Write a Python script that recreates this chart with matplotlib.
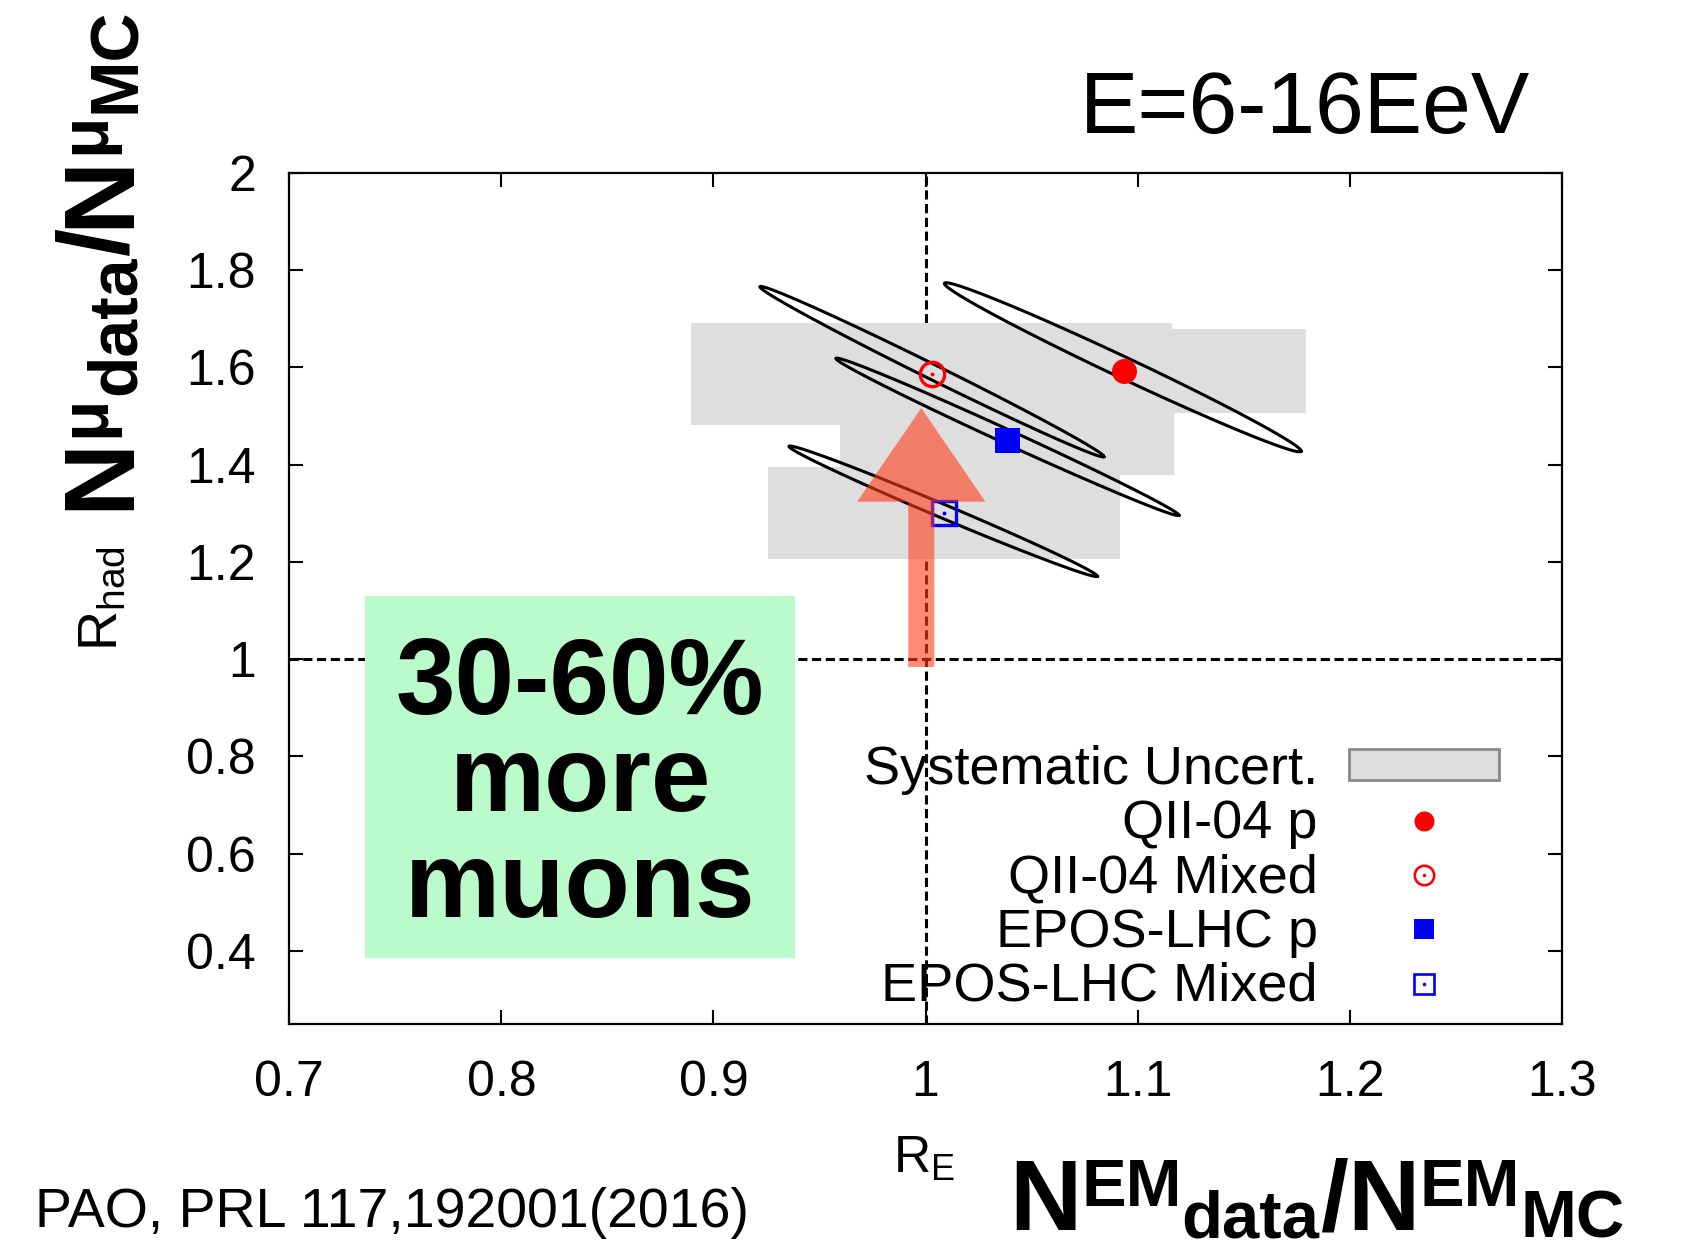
import numpy as np
import matplotlib
matplotlib.use('Agg')
import matplotlib.pyplot as plt
from matplotlib.patches import Rectangle, Patch, FancyArrow
from matplotlib.lines import Line2D
from matplotlib.transforms import IdentityTransform
from matplotlib import font_manager as fm

names = {f.name for f in fm.fontManager.ttflist}
SANS = 'Liberation Sans' if 'Liberation Sans' in names else 'DejaVu Sans'

plt.rcParams['font.family'] = [SANS, 'DejaVu Sans']
plt.rcParams['mathtext.fontset'] = 'custom'
plt.rcParams['mathtext.rm'] = SANS
plt.rcParams['mathtext.bf'] = SANS + ':bold'
plt.rcParams['mathtext.it'] = SANS + ':italic'

# ---------------- data ----------------
models = ['QII-04 p', 'QII-04 Mixed', 'EPOS-LHC p', 'EPOS-LHC Mixed']
r_e = [1.0935, 1.003, 1.0384, 1.0086]
r_had = [1.593, 1.586, 1.4506, 1.300]
sys_e = [0.086, 0.1134, 0.0788, 0.083]
sys_had = [0.0863, 0.1052, 0.072, 0.0945]
# statistical contours (center, half extent to lower-right tip, half width in px)
ell_cx = [1.093, 1.003, 1.0386, 1.0083]
ell_cy = [1.600, 1.591, 1.457, 1.304]
ell_dx = [0.0841, 0.0811, 0.0809, 0.0727]
ell_dy = [0.1727, 0.1747, 0.1614, 0.1336]
ell_minor = [10.5, 7.5, 7.0, 6.8]

xticks = [0.7, 0.8, 0.9, 1.0, 1.1, 1.2, 1.3]
xticklabels = ['0.7', '0.8', '0.9', '1', '1.1', '1.2', '1.3']
yticks = [0.4, 0.6, 0.8, 1.0, 1.2, 1.4, 1.6, 1.8, 2.0]
yticklabels = ['0.4', '0.6', '0.8', '1', '1.2', '1.4', '1.6', '1.8', '2']
callout_lines = ['30-60%', 'more', 'muons']

colors = ['red', 'red', 'blue', 'blue']
markers = ['o', 'o', 's', 's']
filled = [True, False, True, False]

# ---------------- figure ----------------
fig = plt.figure(figsize=(16.92, 12.54), dpi=100)
ax = fig.add_axes([0.1710, 0.1834, 0.7520, 0.6789])
ax.set_xlim(0.7, 1.3)
ax.set_ylim(0.25, 2.0)

ax.set_xticks(xticks)
ax.set_xticklabels(xticklabels)
ax.set_yticks(yticks)
ax.set_yticklabels(yticklabels)
ax.tick_params(direction='in', length=10, width=1.5, top=True, right=True,
               labelsize=36, colors='black')
ax.tick_params(axis='x', pad=26)
ax.tick_params(axis='y', pad=24)
for s in ax.spines.values():
    s.set_linewidth(1.6)
    s.set_zorder(10)

# dashed reference lines
ax.axvline(1.0, color='black', lw=2.2, ls=(0, (3.0, 1.5)), zorder=0.5)
ax.axhline(1.0, color='black', lw=2.2, ls=(0, (3.0, 1.5)), zorder=0.5)

# systematic boxes
for x, y, hx, hy in zip(r_e, r_had, sys_e, sys_had):
    ax.add_patch(Rectangle((x - hx, y - hy), 2 * hx, 2 * hy,
                           facecolor='#DEDEDE', edgecolor='none', zorder=1))

# green callout box
ax.add_patch(Rectangle((0.7356, 0.3854), 0.9386 - 0.7356, 1.1305 - 0.3854,
                       facecolor='#B9FBCB', edgecolor='none', zorder=2))
for txt, yb in zip(callout_lines, [0.8866, 0.6869, 0.4697]):
    ax.text(0.8371, yb, txt, ha='center', va='baseline', fontsize=77,
            fontweight='bold', color='black', zorder=2.5)

# ellipses
T = ax.transData
t = np.linspace(0, 2 * np.pi, 400)
for cx, cy, dx, dy, w in zip(ell_cx, ell_cy, ell_dx, ell_dy, ell_minor):
    c = T.transform((cx, cy))
    tip = T.transform((cx + dx, cy - dy))
    a = tip - c
    n = np.array([-a[1], a[0]]) / np.hypot(a[0], a[1]) * w
    pts = c + np.outer(np.cos(t), a) + np.outer(np.sin(t), n)
    d = T.inverted().transform(pts)
    ax.plot(d[:, 0], d[:, 1], color='black', lw=2.2, zorder=3)

# markers
for x, y, c, m, f in zip(r_e, r_had, colors, markers, filled):
    if f:
        ax.plot([x], [y], marker=m, color=c, ms=18, mew=0, ls='none', zorder=4)
    else:
        ax.plot([x], [y], marker=m, mfc='none', mec=c, ms=17.5, mew=2.4,
                ls='none', zorder=4)
        ax.plot([x], [y], marker='o', color=c, ms=2.8, mew=0, ls='none', zorder=4)

# arrow
arrow_x, arrow_y0, arrow_y1 = 0.998, 0.984, 1.516
ax.add_patch(FancyArrow(arrow_x, arrow_y0, 0, arrow_y1 - arrow_y0,
                        width=0.0123, head_width=0.0605,
                        head_length=arrow_y1 - 1.3237,
                        length_includes_head=True, facecolor='#FF3C1B',
                        edgecolor='none', alpha=0.6, zorder=6))

# legend
handles = [Patch(facecolor='#DEDEDE', edgecolor='#888888', linewidth=2)]
for c, m, f in zip(colors, markers, filled):
    if f:
        handles.append(Line2D([], [], marker=m, color=c, ms=14.4, mew=0, ls='none'))
    else:
        handles.append((Line2D([], [], marker=m, mfc='none', mec=c, ms=14, mew=1.9, ls='none'),
                        Line2D([], [], marker='o', color=c, ms=2.6, mew=0, ls='none')))
labels = ['Systematic Uncert.'] + models
ax.legend(handles, labels, loc='upper right', bbox_to_anchor=(0.9505, 0.3283),
          frameon=False, markerfirst=False, fontsize=39, handlelength=2.76,
          handleheight=0.49, handletextpad=0.58, labelspacing=0.08,
          borderpad=0, borderaxespad=0)

# texts
fig.text(0.9043, 0.8942, 'E=6-16EeV', ha='right', va='baseline', fontsize=63)
fig.text(0.0204, 0.0215, 'PAO, PRL 117,192001(2016)', ha='left', va='baseline',
         fontsize=40)

fig.text(893 / 1692, 1 - 1173 / 1254, r'R$_{\mathrm{E}}$', ha='left',
         va='baseline', fontsize=37)
fig.text(117 / 1692, 1 - 651 / 1254, r'R$_{\mathrm{had}}$', rotation=90,
         rotation_mode='anchor', ha='left', va='baseline', fontsize=40)


def compose(x0, y0, pieces, size, rotation=0):
    """Place bold text pieces one after another with super/subscript shifts (px)."""
    renderer = fig.canvas.get_renderer()
    pos = 0.0
    for txt, scale, shift in pieces:
        fs = size * scale
        if rotation == 0:
            xy = (x0 + pos, y0 + shift)
        else:
            xy = (x0 - shift, y0 + pos)
        tt = fig.text(xy[0], xy[1], txt, transform=IdentityTransform(),
                      fontsize=fs, fontweight='bold', rotation=rotation,
                      rotation_mode='anchor', ha='left', va='baseline')
        ext = tt.get_window_extent(renderer)
        pos += ext.width if rotation == 0 else ext.height


S = 0.67
# x label: N^EM_data / N^EM_MC
xl = 72
up_x = 0.716 * xl * 100 / 72 * (1 - S)
compose(1009, 1254 - 1230, [('N', 1, 0), ('EM', S, up_x), ('data', S, -7),
                            ('/', 1, 0), ('N', 1, 0), ('EM', S, up_x), ('MC', S, -7)], xl)
# y label: N^mu_data / N^mu_MC
yl = 73
up_y = 0.716 * yl * 100 / 72 * (1 - S)
compose(128, 1254 - 510, [('N', 1, 0), ('μ', S, up_y), ('data', S, -7),
                          ('/', 1, 0), ('N', 1, 0), ('μ', S, up_y), ('MC', S, -7)], yl,
        rotation=90)

fig.savefig('out.png', dpi=100)
